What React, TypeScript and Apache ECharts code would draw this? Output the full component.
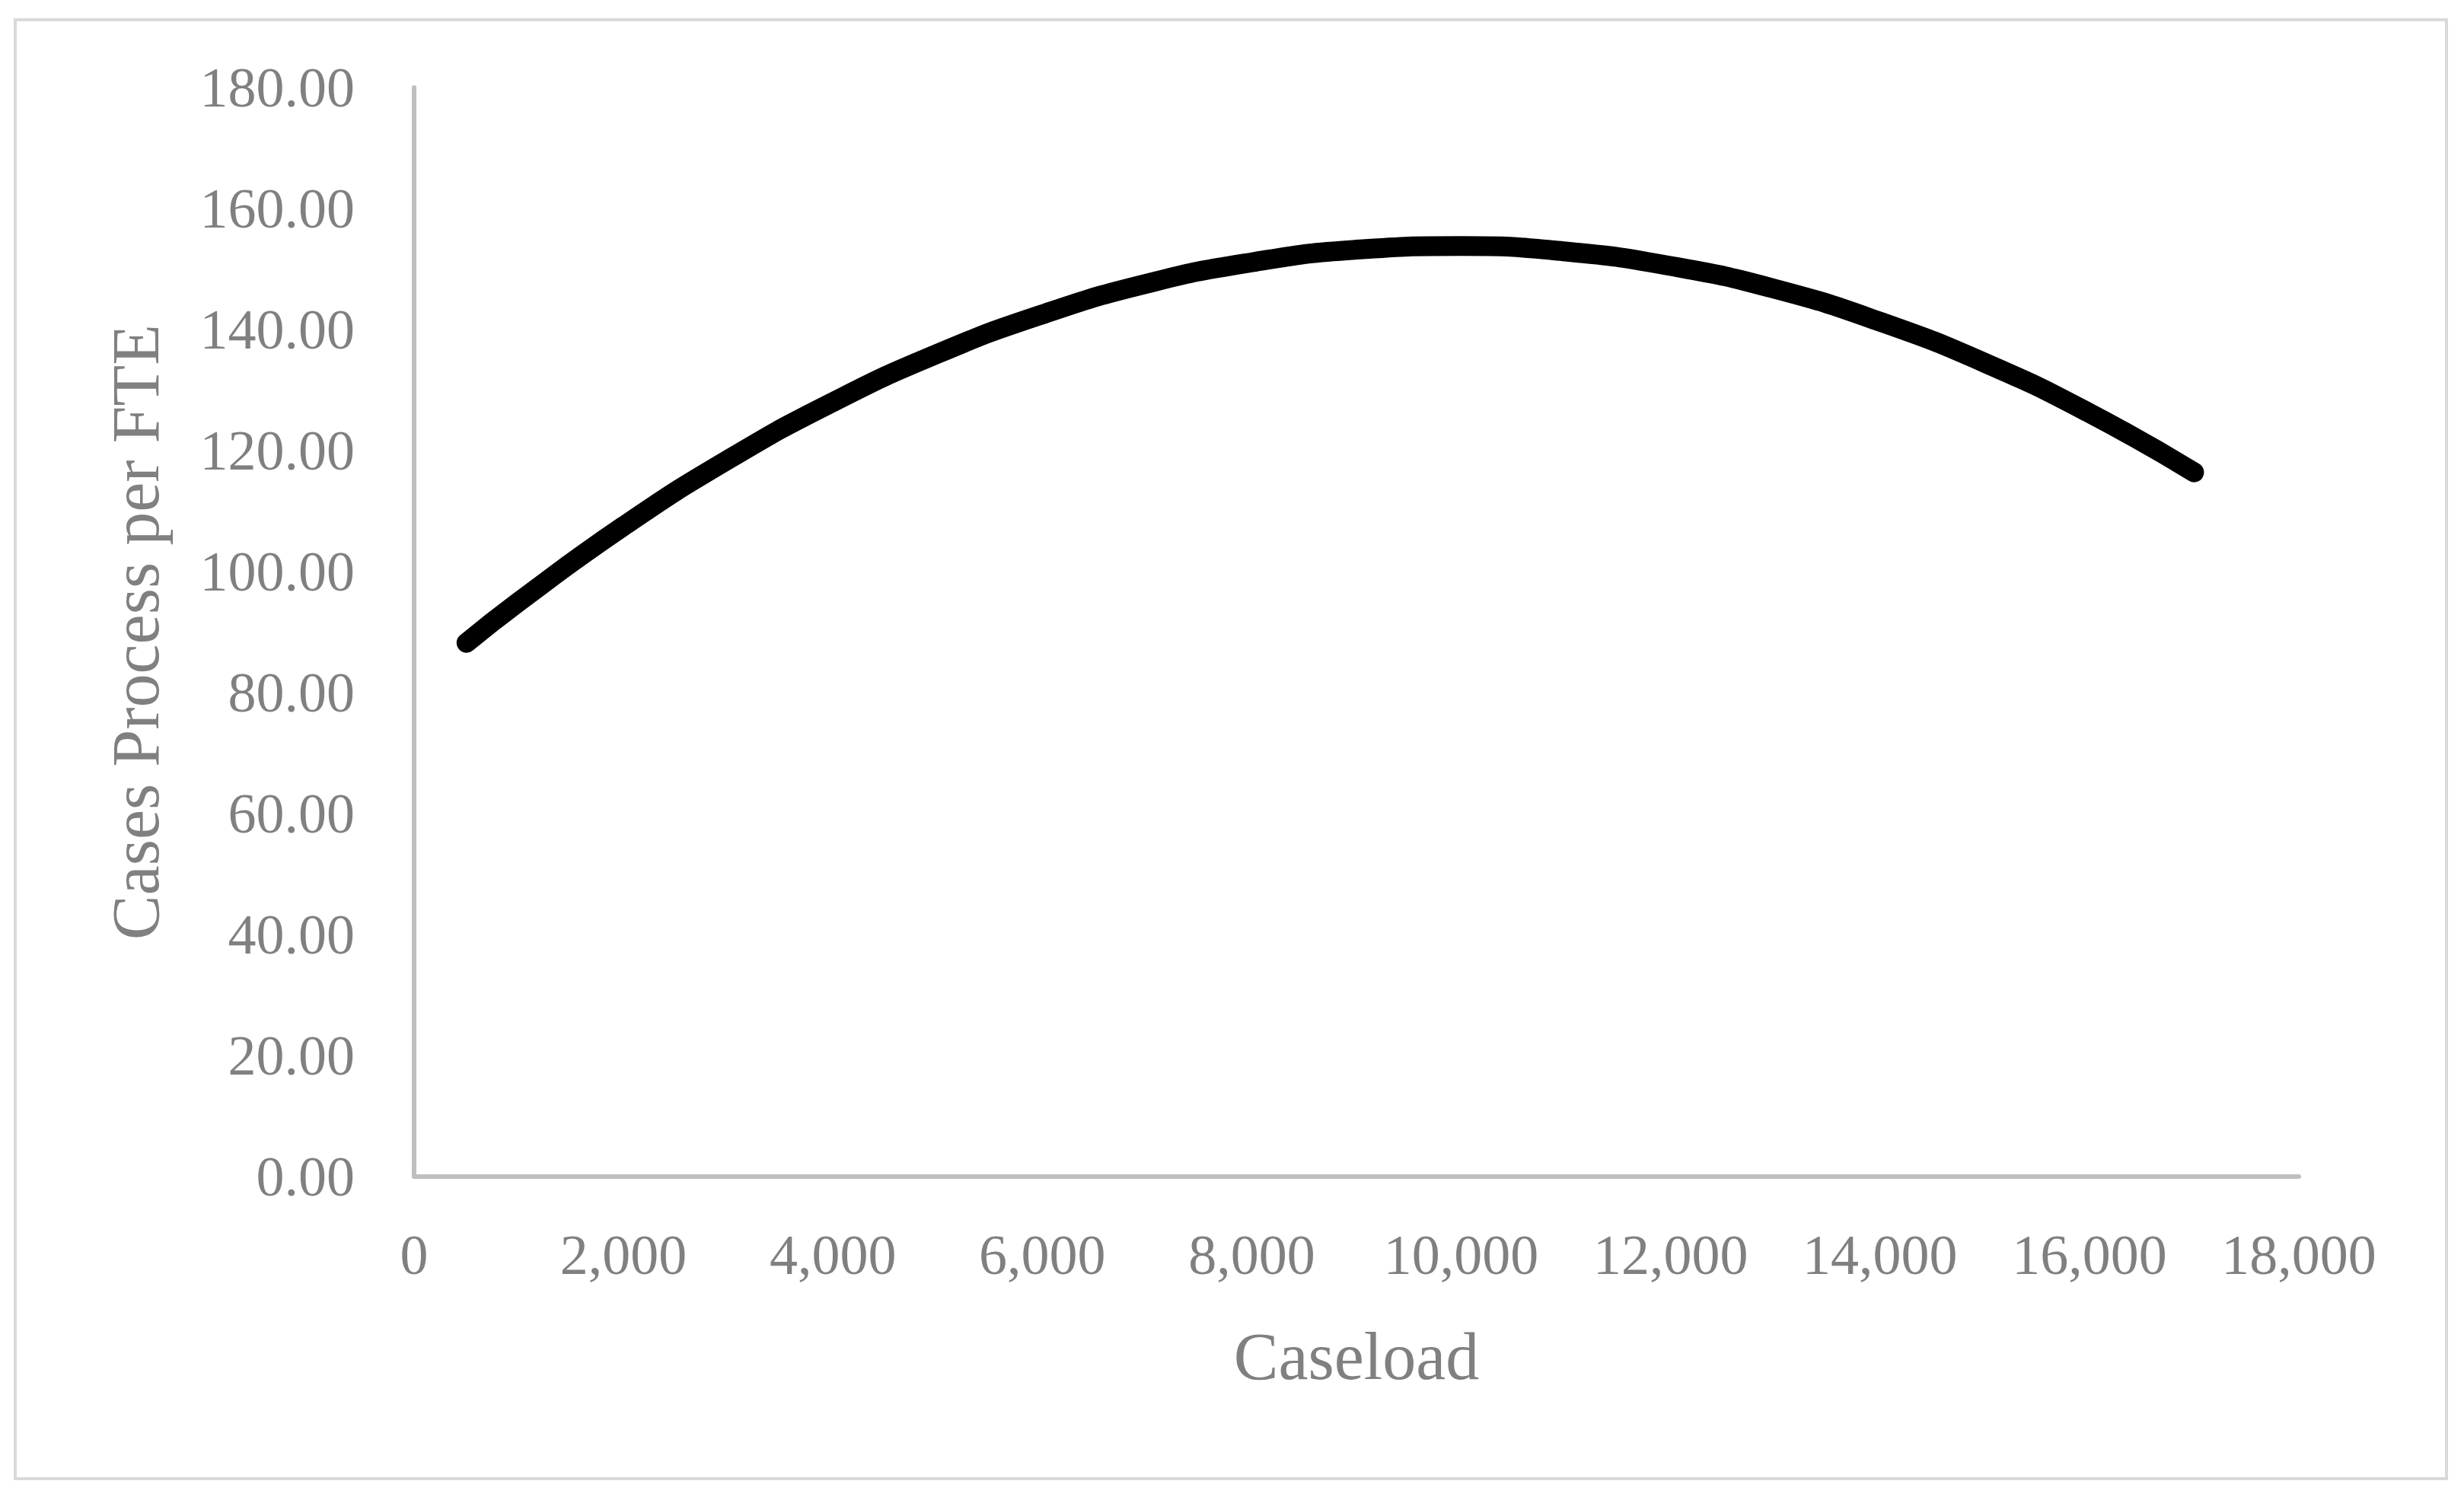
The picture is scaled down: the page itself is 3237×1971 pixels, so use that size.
import React, { useEffect, useRef } from "react";
import * as echarts from "echarts";

const caseload = [500, 1000, 2000, 3000, 4000, 5000, 6000, 7000, 8000, 9000, 10000, 11000, 12000, 13000, 14000, 15000, 16000, 17000];
const casesPerFte = [88.2, 95.0, 107.5, 118.5, 128.0, 136.0, 142.5, 147.6, 151.1, 153.2, 153.8, 152.9, 150.5, 146.7, 141.3, 134.5, 126.2, 116.4];

const xTitle = "Caseload";
const yTitle = "Cases Process per FTE";

const FONT = "'Liberation Serif', 'Times New Roman', serif";
const GRAY = "#808080";

export default function App() {
  const ref = useRef<HTMLDivElement>(null);
  useEffect(() => {
    if (!ref.current) return;
    const chart = echarts.init(ref.current, null, { renderer: "svg" });
    chart.setOption({
      animation: false,
      backgroundColor: "#ffffff",
      graphic: [
        {
          type: "rect",
          shape: { x: 20, y: 26, width: 3194, height: 1917 },
          style: { fill: "none", stroke: "#d9d9d9", lineWidth: 4 },
          silent: true,
        },
      ],
      grid: { left: 544, top: 115, right: 217, bottom: 425, containLabel: false },
      xAxis: {
        type: "value",
        min: 0,
        max: 18000,
        interval: 2000,
        name: xTitle,
        nameLocation: "middle",
        nameGap: 192,
        nameTextStyle: { fontFamily: FONT, fontSize: 88, color: GRAY },
        axisLine: { show: true, onZero: false, lineStyle: { color: "#bfbfbf", width: 6 } },
        axisTick: { show: false },
        splitLine: { show: false },
        axisLabel: {
          fontFamily: FONT,
          fontSize: 74,
          color: GRAY,
          margin: 66,
          formatter: (v: number) => v.toLocaleString("en-US"),
        },
      },
      yAxis: {
        type: "value",
        min: 0,
        max: 180,
        interval: 20,
        name: yTitle,
        nameLocation: "middle",
        nameGap: 322,
        nameTextStyle: { fontFamily: FONT, fontSize: 88, color: GRAY },
        axisLine: { show: true, lineStyle: { color: "#bfbfbf", width: 6 } },
        axisTick: { show: false },
        splitLine: { show: false },
        axisLabel: {
          fontFamily: FONT,
          fontSize: 74,
          color: GRAY,
          margin: 78,
          formatter: (v: number) => v.toFixed(2),
        },
      },
      series: [
        {
          type: "line",
          data: caseload.map((x, i) => [x, casesPerFte[i]]),
          smooth: true,
          showSymbol: false,
          lineStyle: { color: "#000000", width: 26, cap: "round", join: "round" },
        },
      ],
    });
    return () => chart.dispose();
  }, []);
  return (
    <div
      ref={ref}
      style={{ position: "absolute", left: 0, top: 0, width: 3237, height: 1971 }}
    />
  );
}
